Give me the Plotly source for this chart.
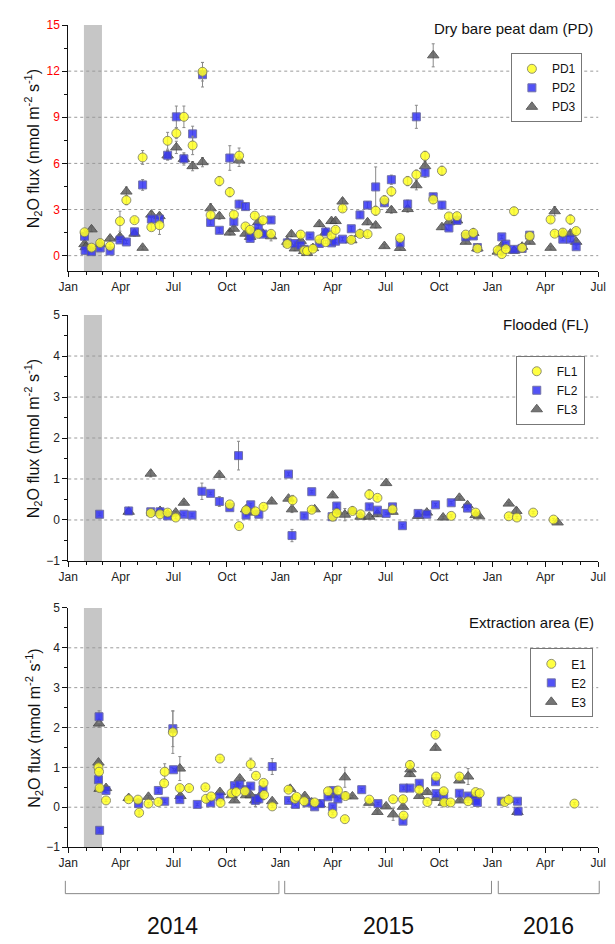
import plotly.graph_objects as go

# ---------------- data: (date, flux, error) ----------------
PD1 = [("2014-01-29",1.52,0.15),("2014-02-10",0.52,0.1),("2014-02-25",0.82,0.1),("2014-03-14",0.63,0.1),("2014-03-31",2.24,0.65),("2014-04-11",3.61,0.3),("2014-04-25",2.31,0.15),("2014-05-09",6.39,0.45),("2014-05-24",1.85,0.2),("2014-06-07",1.98,0.6),("2014-06-21",7.47,0.55),("2014-07-06",7.96,0.35),("2014-07-19",9.03,0.7),("2014-08-03",7.17,0.6),("2014-08-20",11.96,0.6),("2014-09-03",2.64,0.2),("2014-09-18",4.85,0.3),("2014-10-06",4.13,0.3),("2014-10-13",2.67,0.2),("2014-10-22",6.5,0.5),("2014-11-02",1.9,0.15),("2014-11-10",1.68,0.15),("2014-11-18",2.6,0.15),("2014-11-24",1.42,0.2),("2014-12-02",2.3,0.15),("2014-12-16",1.42,0.2),("2015-01-13",0.76,0.1),("2015-02-05",1.37,0.15),("2015-02-11",0.34,0.05),("2015-02-16",0.3,0.05),("2015-02-26",0.45,0.1),("2015-03-09",1.05,0.1),("2015-03-20",0.88,0.1),("2015-03-30",1.32,0.15),("2015-04-06",1.68,0.15),("2015-04-18",3.07,0.2),("2015-05-03",1.03,0.1),("2015-05-18",1.42,0.15),("2015-05-31",1.4,0.15),("2015-06-14",2.92,0.3),("2015-06-29",3.6,0.3),("2015-07-11",4.18,0.3),("2015-07-26",1.15,0.15),("2015-08-08",4.85,0.3),("2015-08-23",5.27,0.3),("2015-09-07",6.49,0.3),("2015-09-21",3.65,0.25),("2015-10-06",5.52,0.3),("2015-10-18",2.55,0.2),("2015-11-01",2.57,0.2),("2015-11-16",1.37,0.15),("2015-11-29",1.48,0.15),("2015-12-06",0.47,0.1),("2016-01-10",0.36,0.1),("2016-01-17",0.1,0.05),("2016-01-24",0.43,0.1),("2016-02-07",2.89,0.25),("2016-02-21",0.51,0.1),("2016-03-05",1.28,0.15),("2016-04-10",2.35,0.2),("2016-04-17",1.43,0.15),("2016-05-01",1.5,0.15),("2016-05-14",2.35,0.3),("2016-05-24",1.6,0.15)]
PD2 = [("2014-01-29",1.26,0.1),("2014-01-30",0.34,0.05),("2014-02-10",0.26,0.05),("2014-02-25",0.5,0.1),("2014-03-14",0.3,0.05),("2014-03-31",1.02,0.1),("2014-04-11",0.89,0.1),("2014-04-25",1.55,0.15),("2014-05-09",4.6,0.35),("2014-05-24",2.38,0.2),("2014-06-07",2.38,0.2),("2014-06-21",6.53,0.3),("2014-07-06",9.03,0.7),("2014-07-19",6.3,0.3),("2014-08-03",7.92,0.5),("2014-08-20",11.77,0.8),("2014-09-03",2.16,0.15),("2014-09-18",1.65,0.15),("2014-10-06",6.35,0.8),("2014-10-13",2.21,0.2),("2014-10-22",3.35,0.25),("2014-11-02",3.19,0.2),("2014-11-10",1.12,0.15),("2014-11-18",1.54,0.15),("2014-11-24",1.83,0.2),("2014-12-02",1.4,0.15),("2014-12-16",2.32,0.15),("2015-01-13",0.83,0.1),("2015-01-26",0.79,0.1),("2015-02-05",0.68,0.1),("2015-02-11",0.41,0.05),("2015-02-21",1.28,0.1),("2015-03-09",0.79,0.1),("2015-03-20",1.54,0.15),("2015-03-30",0.83,0.1),("2015-04-06",0.94,0.1),("2015-04-18",1.07,0.1),("2015-05-03",1.75,0.15),("2015-05-18",2.65,0.2),("2015-05-31",3.29,0.2),("2015-06-14",4.47,1.3),("2015-06-29",3.44,0.25),("2015-07-11",4.94,0.3),("2015-07-26",0.83,0.1),("2015-08-08",3.36,0.25),("2015-08-23",9.03,0.75),("2015-09-07",5.39,0.3),("2015-09-21",3.83,0.2),("2015-10-06",3.29,0.2),("2015-10-18",1.8,0.15),("2015-11-01",2.29,0.15),("2015-11-16",1.22,0.1),("2015-11-29",1.28,0.1),("2015-12-06",0.53,0.1),("2016-01-17",1.22,0.1),("2016-01-24",0.75,0.1),("2016-02-07",0.41,0.05),("2016-02-21",0.47,0.05),("2016-03-05",1.33,0.1),("2016-05-01",1.07,0.1),("2016-05-14",1.07,0.15),("2016-05-24",0.58,0.1)]
PD3 = [("2014-01-29",0.75,0.1),("2014-01-31",0.55,0.1),("2014-02-10",1.71,0.15),("2014-02-25",0.75,0.1),("2014-03-14",1.11,0.15),("2014-03-31",1.22,0.15),("2014-04-11",4.17,0.3),("2014-04-25",1.43,0.15),("2014-05-09",0.51,0.1),("2014-05-24",2.67,0.2),("2014-06-07",2.57,0.2),("2014-06-21",6.52,0.3),("2014-07-06",7.04,0.4),("2014-07-19",6.29,0.4),("2014-08-03",5.82,0.3),("2014-08-20",6.08,0.3),("2014-09-03",3.08,0.3),("2014-09-18",2.57,0.2),("2014-10-06",1.5,0.15),("2014-10-13",1.75,0.15),("2014-10-22",6.2,0.4),("2014-11-02",1.43,0.15),("2014-11-10",1.22,0.1),("2014-11-24",2.18,0.2),("2014-12-02",1.43,0.15),("2014-12-16",1.26,0.3),("2015-01-13",0.9,0.1),("2015-01-20",1.39,0.15),("2015-01-26",0.47,0.15),("2015-02-05",0.96,0.1),("2015-02-11",0.3,0.05),("2015-02-16",0.17,0.05),("2015-02-26",0.49,0.1),("2015-03-09",2.05,0.15),("2015-03-20",1.52,0.15),("2015-03-30",2.25,0.15),("2015-04-06",2.25,0.15),("2015-04-18",3.52,0.2),("2015-05-03",1.0,0.1),("2015-05-18",1.42,0.1),("2015-05-31",2.17,0.15),("2015-06-14",1.96,0.15),("2015-06-29",0.62,0.1),("2015-07-11",2.96,0.2),("2015-07-26",0.5,0.1),("2015-08-08",3.03,0.2),("2015-08-23",4.58,0.3),("2015-09-07",5.82,0.3),("2015-09-21",13.03,0.75),("2015-10-06",1.85,0.15),("2015-10-18",2.17,0.15),("2015-11-01",2.29,0.15),("2015-11-16",0.9,0.1),("2015-11-29",1.48,0.15),("2015-12-06",0.47,0.1),("2016-01-10",0.26,0.05),("2016-01-17",0.64,0.1),("2016-02-07",0.32,0.05),("2016-02-21",0.58,0.1),("2016-03-05",0.9,0.1),("2016-04-10",0.51,0.1),("2016-04-17",2.89,0.3),("2016-05-01",1.43,0.1),("2016-05-14",1.43,0.15),("2016-05-24",0.9,0.1)]

FL1 = [("2014-05-23",0.17,0.03),("2014-06-08",0.14,0.03),("2014-06-21",0.18,0.03),("2014-07-05",0.06,0.03),("2014-10-06",0.38,0.05),("2014-10-22",-0.15,0.03),("2014-11-03",0.24,0.03),("2014-11-19",0.21,0.03),("2014-12-03",0.32,0.03),("2015-01-22",0.48,0.12),("2015-02-24",0.25,0.03),("2015-04-01",0.08,0.03),("2015-04-08",0.17,0.03),("2015-05-05",0.22,0.03),("2015-05-19",0.14,0.03),("2015-06-03",0.62,0.12),("2015-06-17",0.54,0.03),("2015-07-13",0.26,0.05),("2015-10-22",0.1,0.03),("2015-12-03",0.18,0.03),("2016-01-29",0.09,0.03),("2016-02-12",0.06,0.03),("2016-03-11",0.18,0.03),("2016-04-15",0.01,0.03)]
FL2 = [("2014-02-24",0.14,0.03),("2014-04-15",0.22,0.03),("2014-05-23",0.2,0.03),("2014-06-08",0.2,0.03),("2014-06-21",0.1,0.03),("2014-07-19",0.14,0.03),("2014-08-02",0.12,0.03),("2014-08-19",0.7,0.2),("2014-09-03",0.65,0.03),("2014-09-18",0.45,0.12),("2014-10-06",0.3,0.03),("2014-10-21",1.57,0.35),("2014-11-03",0.12,0.03),("2014-11-11",0.37,0.03),("2014-11-25",0.14,0.03),("2015-01-15",1.12,0.03),("2015-01-21",-0.38,0.15),("2015-02-11",0.1,0.03),("2015-02-24",0.69,0.03),("2015-03-31",0.08,0.03),("2015-04-08",0.34,0.05),("2015-06-03",0.32,0.05),("2015-06-17",0.24,0.03),("2015-07-02",0.16,0.03),("2015-07-13",0.32,0.03),("2015-07-30",-0.14,0.03),("2015-08-26",0.16,0.05),("2015-09-10",0.14,0.03),("2015-09-25",0.37,0.03),("2015-10-22",0.42,0.03),("2015-11-19",0.29,0.03)]
FL3 = [("2014-04-15",0.2,0.05),("2014-05-23",1.13,0.08),("2014-06-08",0.22,0.03),("2014-06-21",0.14,0.03),("2014-07-05",0.18,0.03),("2014-07-19",0.42,0.03),("2014-09-18",1.1,0.03),("2014-11-03",0.26,0.03),("2014-11-11",0.18,0.03),("2014-12-17",0.45,0.03),("2015-01-15",0.52,0.03),("2015-01-21",0.26,0.08),("2015-03-01",0.26,0.03),("2015-04-01",0.6,0.03),("2015-04-08",0.2,0.03),("2015-04-22",0.13,0.15),("2015-05-05",0.22,0.03),("2015-05-19",0.08,0.05),("2015-06-03",0.08,0.05),("2015-06-17",0.14,0.05),("2015-07-02",0.9,0.03),("2015-07-13",0.2,0.05),("2015-08-26",0.1,0.05),("2015-09-10",0.18,0.03),("2015-10-08",0.06,0.03),("2015-11-05",0.54,0.03),("2015-11-19",0.36,0.03),("2015-12-03",0.12,0.03),("2015-12-09",0.09,0.03),("2016-01-29",0.4,0.03),("2016-02-11",0.22,0.08),("2016-04-22",-0.06,0.03)]

E1 = [("2014-02-22",1.0,0.05),("2014-02-23",0.89,0.05),("2014-02-24",0.48,0.05),("2014-03-07",0.17,0.03),("2014-04-15",0.2,0.03),("2014-05-01",0.19,0.03),("2014-05-03",-0.14,0.05),("2014-05-19",0.09,0.03),("2014-06-05",0.13,0.03),("2014-06-15",0.6,0.05),("2014-06-16",0.89,0.2),("2014-06-30",1.88,0.53),("2014-07-12",0.48,0.05),("2014-07-28",0.48,0.03),("2014-08-25",0.5,0.03),("2014-08-26",0.21,0.05),("2014-09-04",0.27,0.03),("2014-09-19",1.22,0.03),("2014-09-20",0.11,0.03),("2014-10-09",0.35,0.03),("2014-10-17",0.38,0.03),("2014-11-01",0.4,0.03),("2014-11-11",1.08,0.15),("2014-11-20",0.79,0.03),("2014-12-03",0.61,0.03),("2014-12-04",0.31,0.03),("2014-12-18",0.02,0.03),("2015-01-15",0.44,0.05),("2015-01-26",0.21,0.05),("2015-01-29",0.26,0.03),("2015-02-11",0.15,0.03),("2015-03-01",0.12,0.03),("2015-03-24",0.4,0.08),("2015-04-01",-0.16,0.03),("2015-04-10",0.42,0.03),("2015-04-22",-0.3,0.03),("2015-04-23",0.28,0.05),("2015-06-03",0.19,0.03),("2015-07-14",0.2,0.03),("2015-07-31",0.2,0.03),("2015-08-01",-0.21,0.03),("2015-08-12",1.06,0.1),("2015-08-28",0.44,0.03),("2015-09-11",0.13,0.03),("2015-09-25",1.82,0.05),("2015-09-26",0.77,0.05),("2015-10-09",0.4,0.03),("2015-10-10",0.12,0.03),("2015-10-21",0.12,0.03),("2015-11-05",0.77,0.05),("2015-11-20",0.15,0.03),("2015-12-03",0.38,0.03),("2015-12-10",0.35,0.03),("2016-01-22",0.13,0.03),("2016-01-29",0.19,0.03),("2016-05-21",0.09,0.03)]
E2 = [("2014-02-22",0.69,0.05),("2014-02-23",2.27,0.15),("2014-02-24",-0.58,0.05),("2014-03-07",0.42,0.05),("2014-05-02",0.09,0.03),("2014-06-05",0.42,0.05),("2014-06-16",0.15,0.03),("2014-06-30",1.97,0.45),("2014-07-01",0.94,0.03),("2014-07-12",0.19,0.03),("2014-08-11",0.07,0.03),("2014-09-03",0.11,0.03),("2014-09-19",0.26,0.03),("2014-10-14",0.54,0.03),("2014-10-23",0.56,0.03),("2014-11-03",0.44,0.03),("2014-11-11",0.53,0.05),("2014-11-19",0.17,0.03),("2014-11-25",0.21,0.03),("2014-12-02",0.44,0.03),("2014-12-18",1.02,0.2),("2015-01-15",0.17,0.03),("2015-01-27",0.07,0.03),("2015-02-16",0.11,0.03),("2015-03-01",0.01,0.03),("2015-03-11",0.09,0.03),("2015-03-24",0.26,0.03),("2015-04-01",0.01,0.03),("2015-04-02",0.42,0.03),("2015-04-10",0.21,0.03),("2015-05-21",0.44,0.03),("2015-06-18",0.09,0.03),("2015-07-31",-0.35,0.05),("2015-08-01",0.48,0.03),("2015-08-12",0.48,0.05),("2015-08-28",0.6,0.03),("2015-09-25",0.64,0.05),("2015-09-26",0.34,0.03),("2015-10-09",0.28,0.03),("2015-11-05",0.35,0.05),("2015-11-20",0.28,0.03),("2015-12-03",0.17,0.03),("2015-12-06",0.12,0.03),("2016-01-16",0.15,0.03),("2016-02-13",0.15,0.03),("2016-02-14",-0.1,0.05)]
E3 = [("2014-02-22",1.12,0.05),("2014-02-23",2.1,0.1),("2014-02-24",0.46,0.05),("2014-03-07",0.48,0.05),("2014-04-15",0.23,0.03),("2014-05-19",0.26,0.03),("2014-07-12",0.97,0.3),("2014-07-13",0.28,0.05),("2014-09-19",0.38,0.05),("2014-10-09",0.3,0.05),("2014-10-14",0.17,0.03),("2014-10-23",0.72,0.03),("2014-11-03",0.3,0.05),("2014-11-11",0.3,0.03),("2014-11-19",0.17,0.15),("2014-11-25",0.25,0.03),("2014-12-18",0.15,0.03),("2015-01-18",0.46,0.05),("2015-02-12",0.28,0.03),("2015-02-24",0.12,0.03),("2015-03-10",0.07,0.03),("2015-04-01",0.3,0.03),("2015-04-22",0.75,0.25),("2015-04-23",0.28,0.03),("2015-05-05",0.27,0.03),("2015-06-03",0.11,0.03),("2015-06-17",-0.12,0.03),("2015-07-02",0.02,0.03),("2015-07-14",-0.18,0.15),("2015-07-31",0.01,0.03),("2015-08-12",0.83,0.05),("2015-08-13",0.95,0.15),("2015-08-28",0.28,0.03),("2015-09-11",0.38,0.03),("2015-09-25",1.49,0.05),("2015-09-26",0.23,0.03),("2015-10-09",0.11,0.03),("2015-11-05",0.67,0.05),("2015-11-06",0.17,0.03),("2015-11-20",0.77,0.2),("2015-12-03",0.3,0.03),("2016-01-29",0.19,0.03),("2016-02-13",-0.12,0.05)]

PANELS = [
    ("Dry bare peat dam (PD)", [("PD1", PD1), ("PD2", PD2), ("PD3", PD3)], [-1, 15], [0, 3, 6, 9, 12, 15], 1.5, [0, 3, 6, 9, 12]),
    ("Flooded (FL)", [("FL1", FL1), ("FL2", FL2), ("FL3", FL3)], [-1, 5], [-1, 0, 1, 2, 3, 4, 5], 0.5, [0, 1, 2, 3, 4]),
    ("Extraction area (E)", [("E1", E1), ("E2", E2), ("E3", E3)], [-1, 5], [-1, 0, 1, 2, 3, 4, 5], 0.5, [0, 1, 2, 3, 4]),
]
SHADE = ("2014-01-28", "2014-02-28")
X_RANGE = ["2014-01-01", "2016-07-01"]
YEARS = ["2014", "2015", "2016"]

# ---------------- styling / layout ----------------
W, H = 615, 944
FONT = "Liberation Sans, Arial, sans-serif"
STYLES = [
    dict(symbol="circle", size=9, color="#ffff22", line=dict(color="#7f7f5a", width=1)),
    dict(symbol="square", size=8, color="#3535f5", line=dict(color="#5a5a9a", width=1)),
    dict(symbol="triangle-up", size=10, color="#5e5e5e", line=dict(color="#444444", width=1)),
]
X_PIX = (60, 606)
PANEL_PIX = [(18.3, 268), (312.7, 562.3), (610, 852.7)]
TITLE_PIX = [(603, 22), (599, 322), (604, 625)]
LEGEND_PIX = [(516, 47), (521, 354), (536, 651)]
YTITLE_X = 24
TICKCOLORS = ["#ff0000", "#222222", "#222222"]
BRACKETS_PIX = [(57, 277), (283, 496), (503, 607)]
BRACKET_Y, BRACKET_TOP, YEAR_Y = 900, 887, 933

def px_x(p): return p / W
def px_y(p): return 1 - p / H

fig = go.Figure()
layout = dict(width=W, height=H, margin=dict(l=0, r=0, t=0, b=0),
              paper_bgcolor="white", plot_bgcolor="white",
              font=dict(family=FONT, color="#111111"), shapes=[], annotations=[])

order = [2, 1, 0]
for i, (title, series, yr, yt, minor_dt, grid) in enumerate(PANELS):
    n = "" if i == 0 else str(i + 1)
    xa, ya = "x" + n, "y" + n
    leg = "legend" + n
    for k in order:
        name, recs = series[k]
        st = STYLES[k]
        fig.add_trace(go.Scatter(
            x=[r[0] for r in recs], y=[r[1] for r in recs], mode="markers", name=name,
            xaxis=xa, yaxis=ya, legend=leg, legendrank=k + 1,
            marker=dict(symbol=st["symbol"], size=st["size"], color=st["color"], line=st["line"], opacity=0.85),
            error_y=dict(type="data", array=[r[2] for r in recs], color="#8a8a8a", thickness=1, width=1.5),
        ))
    top, bot = PANEL_PIX[i]
    dom = [px_y(bot), px_y(top)]
    layout["xaxis" + n] = dict(
        type="date", range=X_RANGE, domain=[px_x(X_PIX[0]), px_x(X_PIX[1])], anchor=ya,
        showline=True, linecolor="#111", linewidth=1, ticks="outside", ticklen=5, tickcolor="#111",
        dtick="M3", tick0="2014-01-01", tickformat="%b", tickfont=dict(size=12, color="#222"),
        minor=dict(ticks="outside", ticklen=3, dtick="M1", tick0="2014-01-01", tickcolor="#111"),
        showgrid=False, zeroline=False, fixedrange=True)
    layout["yaxis" + n] = dict(
        range=yr, domain=dom, anchor=xa, showline=True, linecolor="#111", linewidth=1,
        ticks="outside", ticklen=5, tickcolor="#111", tickmode="array", tickvals=yt,
        tickfont=dict(size=12, color=TICKCOLORS[i]),
        minor=dict(ticks="outside", ticklen=3, dtick=minor_dt, tick0=0, tickcolor="#111"),
        showgrid=False, zeroline=False, fixedrange=True)
    # shaded period
    layout["shapes"].append(dict(type="rect", xref=xa, yref=ya + " domain", x0=SHADE[0], x1=SHADE[1],
                                 y0=0, y1=1, fillcolor="#c6c6c6", line=dict(width=0), layer="below"))
    for g in grid:
        layout["shapes"].append(dict(type="line", xref=xa + " domain", yref=ya, x0=0, x1=1, y0=g, y1=g,
                                     line=dict(color="#9a9a9a", width=1, dash="dot"), layer="below"))
    tx, ty = TITLE_PIX[i]
    layout["annotations"].append(dict(text=title, xref="paper", yref="paper", x=px_x(tx), y=px_y(ty),
                                      xanchor="right", yanchor="middle", showarrow=False,
                                      font=dict(size=15, color="#111")))
    layout["annotations"].append(dict(text="N<sub>2</sub>O flux (nmol m<sup>-2</sup> s<sup>-1</sup>)",
                                      xref="paper", yref="paper", x=px_x(YTITLE_X), y=(dom[0] + dom[1]) / 2,
                                      textangle=-90, xanchor="center", yanchor="middle", showarrow=False,
                                      font=dict(size=16, color="#111")))
    lx, ly = LEGEND_PIX[i]
    layout[leg] = dict(x=px_x(lx), y=px_y(ly), xanchor="left", yanchor="top", bgcolor="white",
                       bordercolor="#777777", borderwidth=1, font=dict(size=12, color="#111"),
                       itemwidth=30, tracegroupgap=0)

for (x0, x1), yr_lbl in zip(BRACKETS_PIX, YEARS):
    for seg in [(x0, BRACKET_Y, x1, BRACKET_Y), (x0, BRACKET_TOP, x0, BRACKET_Y), (x1, BRACKET_TOP, x1, BRACKET_Y)]:
        layout["shapes"].append(dict(type="line", xref="paper", yref="paper",
                                     x0=px_x(seg[0]), y0=px_y(seg[1]), x1=px_x(seg[2]), y1=px_y(seg[3]),
                                     line=dict(color="#888888", width=1)))
    layout["annotations"].append(dict(text=yr_lbl, xref="paper", yref="paper", x=px_x((x0 + x1) / 2),
                                      y=px_y(YEAR_Y), xanchor="center", yanchor="middle", showarrow=False,
                                      font=dict(size=23, color="#111")))

fig.update_layout(**layout)
fig.write_html("out.html")
